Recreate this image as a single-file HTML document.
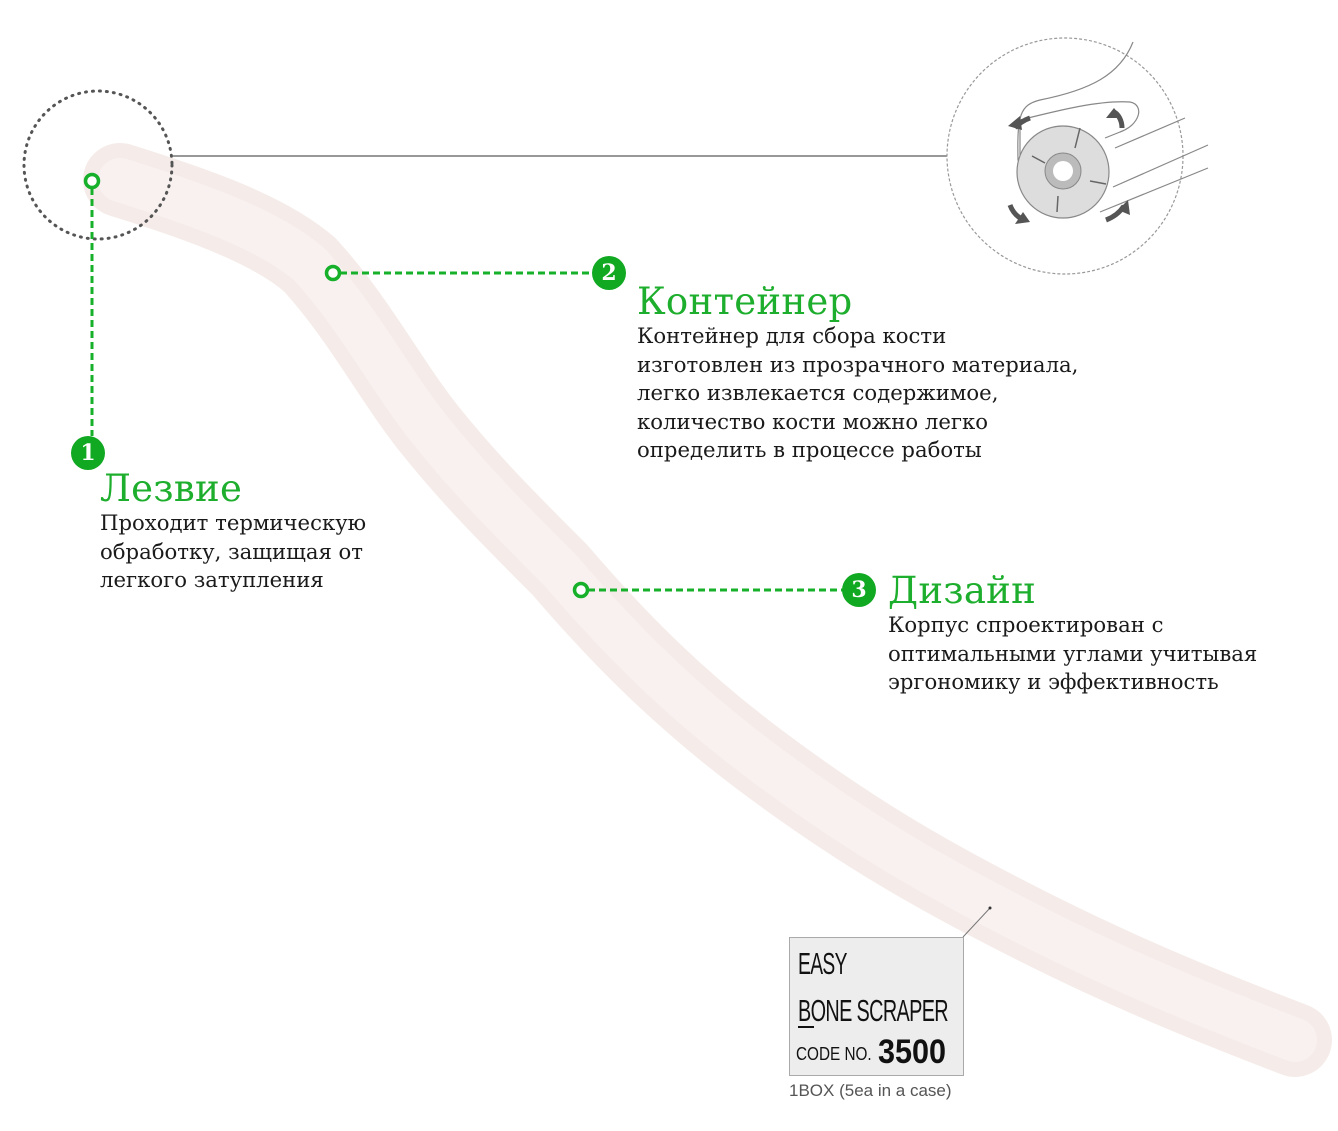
<!DOCTYPE html>
<html><head><meta charset="utf-8"><style>
body{margin:0;width:1338px;height:1131px;background:#fff;position:relative;overflow:hidden;font-family:"DejaVu Serif",serif;}
.h{position:absolute;color:#1eae2d;font-size:37px;line-height:40px;font-family:"DejaVu Serif",serif;letter-spacing:0.3px;}
.t{position:absolute;color:#1a1a1a;font-size:21.2px;line-height:28.5px;font-family:"DejaVu Serif",serif;white-space:nowrap;}
.c{position:absolute;width:34px;height:34px;border-radius:50%;background:#11a822;color:#fff;font-weight:bold;font-size:22px;text-align:center;line-height:34px;}
</style></head><body>
<svg width="1338" height="1131" style="position:absolute;left:0;top:0">
<path d="M120,180 C200,205 270,230 310,265 C360,320 390,380 430,430 C470,480 510,520 560,570 C620,640 680,700 760,760 C860,835 940,880 1040,930 C1140,980 1230,1015 1295,1040" fill="none" stroke="#f5ecea" stroke-width="74" stroke-linecap="round"/>
<path d="M120,180 C200,205 270,230 310,265 C360,320 390,380 430,430 C470,480 510,520 560,570 C620,640 680,700 760,760 C860,835 940,880 1040,930 C1140,980 1230,1015 1295,1040" fill="none" stroke="#f8f1ef" stroke-width="44" stroke-linecap="round"/>
<circle cx="98" cy="165" r="74" fill="none" stroke="#555" stroke-width="3" stroke-dasharray="1 6" stroke-linecap="round"/>
<line x1="173" y1="156" x2="947" y2="156" stroke="#777" stroke-width="1.5"/>
<circle cx="1065" cy="156" r="118" fill="#fff" stroke="#999" stroke-width="1.2" stroke-dasharray="3 2"/>
<path d="M1133,42 C1120,75 1090,90 1040,100 C1020,105 1017,115 1018,160 L1033,160" fill="none" stroke="#888" stroke-width="1.2"/>
<path d="M1020,165 L1020,120 C1060,110 1100,100 1130,102 C1145,105 1140,125 1120,132 L1105,138" fill="none" stroke="#888" stroke-width="1.2"/>
<path d="M1115,148 L1185,118 M1113,187 L1208,145 M1100,212 L1208,168" fill="none" stroke="#888" stroke-width="1.2"/>
<circle cx="1063" cy="172" r="46" fill="#ddd" stroke="#888" stroke-width="1.2"/>
<circle cx="1063" cy="171" r="18" fill="#bbb" stroke="#888"/>
<circle cx="1063" cy="171" r="10" fill="#fff"/>
<path d="M1080,128 L1075,148 M1032,156 L1045,163 M1090,181 L1106,184 M1058,196 L1057,212" stroke="#666" stroke-width="1.5"/>
<g fill="#555">
<path d="M1030,118 c-6,2 -12,6 -15,10" stroke="#555" stroke-width="5" fill="none"/><path d="M1008,126 l12,-10 l2,14z"/>
<path d="M1122,128 c0,-8 -4,-14 -8,-16" stroke="#555" stroke-width="5" fill="none"/><path d="M1106,118 l8,-10 l8,10z"/>
<path d="M1010,205 c3,8 8,12 12,14" stroke="#555" stroke-width="5" fill="none"/><path d="M1030,222 l-15,2 l8,-12z"/>
<path d="M1106,220 c8,-3 14,-8 18,-14" stroke="#555" stroke-width="5" fill="none"/><path d="M1128,200 l2,15 l-12,-5z"/></g>
<g stroke="#17b02a" stroke-width="3" fill="none" stroke-dasharray="7 4">
<line x1="92" y1="188" x2="92" y2="436"/>
<line x1="340" y1="273" x2="595" y2="273"/>
<line x1="588" y1="590" x2="845" y2="590"/>
</g>
<g stroke="#17b02a" stroke-width="3.5" fill="#fff">
<circle cx="92" cy="181" r="6.5"/><circle cx="333" cy="273" r="6.5"/><circle cx="581" cy="590" r="6.5"/>
</g>
<line x1="963" y1="937" x2="990" y2="908" stroke="#777" stroke-width="1"/>
<circle cx="990" cy="908" r="1.5" fill="#333"/>
</svg>
<div class="c" style="left:71px;top:436px">1</div>
<div class="c" style="left:592px;top:256px">2</div>
<div class="c" style="left:842px;top:573px">3</div>
<div class="h" style="left:100px;top:469px">Лезвие</div>
<div class="t" style="left:100px;top:509px">Проходит термическую<br>обработку, защищая от<br>легкого затупления</div>
<div class="h" style="left:637px;top:282px">Контейнер</div>
<div class="t" style="left:637px;top:322px">Контейнер для сбора кости<br>изготовлен из прозрачного материала,<br>легко извлекается содержимое,<br>количество кости можно легко<br>определить в процессе работы</div>
<div class="h" style="left:888px;top:571px">Дизайн</div>
<div class="t" style="left:888px;top:611px">Корпус спроектирован с<br>оптимальными углами учитывая<br>эргономику и эффективность</div>
<div style="position:absolute;left:789px;top:937px;width:173px;height:137px;background:#ededed;border:1px solid #aaa;font-family:'Liberation Sans',sans-serif;color:#111;">
<div style="position:absolute;left:8px;top:8px;font-size:31px;transform:scaleX(0.62);transform-origin:left;letter-spacing:-1px">EASY</div>
<div style="position:absolute;left:8px;top:55px;font-size:31px;transform:scaleX(0.64);transform-origin:left;letter-spacing:-1px;white-space:nowrap">BONE SCRAPER</div>
<div style="position:absolute;left:8px;top:88px;width:16px;border-top:2px solid #111"></div>
<div style="position:absolute;left:6px;top:106px;font-size:18px;transform:scaleX(0.85);transform-origin:left;white-space:nowrap">CODE NO.</div>
<div style="position:absolute;left:88px;top:95px;font-size:34px;font-weight:bold;transform:scaleX(0.9);transform-origin:left;">3500</div>
</div>
<div style="position:absolute;left:789px;top:1081px;font-family:'Liberation Sans',sans-serif;font-size:17px;color:#555;">1BOX (5ea in a case)</div>
</body></html>
